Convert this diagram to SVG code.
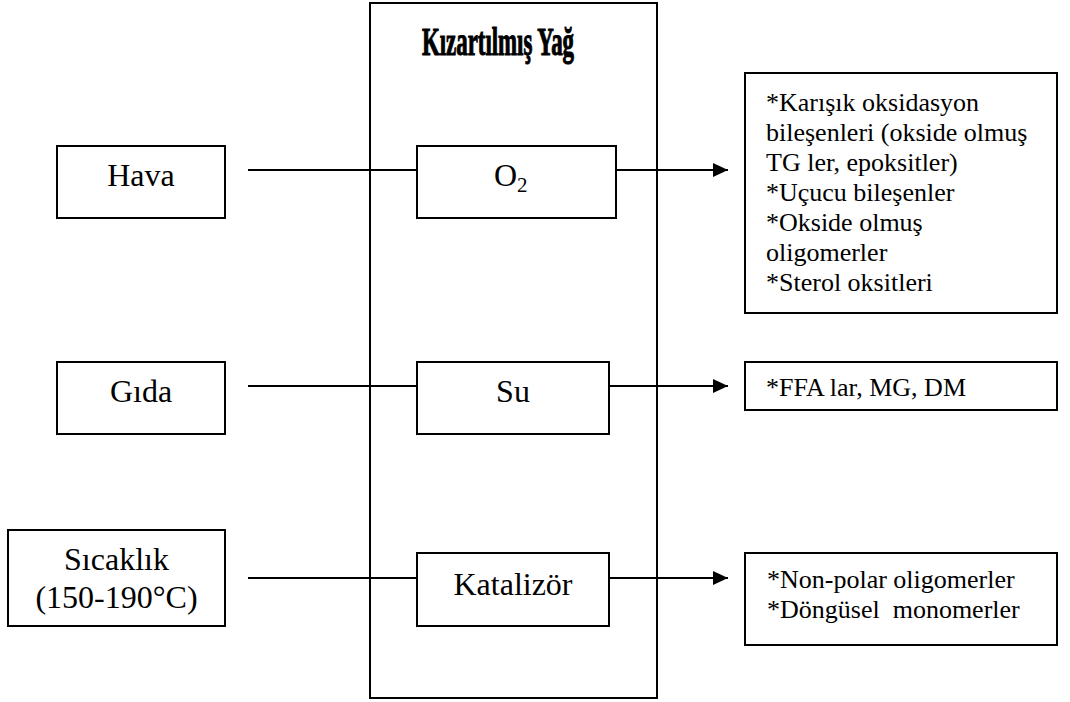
<svg xmlns="http://www.w3.org/2000/svg" width="1070" height="702" viewBox="0 0 1070 702">
<style>
.box{fill:#fff;stroke:#000;stroke-width:2}
.frame{fill:none;stroke:#000;stroke-width:2}
.ln{stroke:#000;stroke-width:2;fill:none}
.t{font-family:"Liberation Serif","Times New Roman",serif;font-size:32px;fill:#000}
.r{font-family:"Liberation Serif","Times New Roman",serif;font-size:26px;fill:#000}
.title{font-family:"Liberation Serif","Times New Roman",serif;font-size:39px;font-weight:bold;fill:#000;stroke:#000;stroke-width:1.1}
</style>
<defs>
<marker id="arr" markerWidth="16" markerHeight="14" refX="15" refY="7" orient="auto" markerUnits="userSpaceOnUse">
<path d="M0,0 L15,7 L0,14 Z" fill="#000"/>
</marker>
</defs>
<rect width="1070" height="702" fill="#fff"/>
<g id="frying-oil">
<rect class="frame" x="370" y="3" width="287" height="695"/>
<text class="title" x="422" y="55" textLength="152" lengthAdjust="spacingAndGlyphs">Kızartılmış Yağ</text>
</g>
<g id="connectors">
<line class="ln" x1="248" y1="170" x2="417" y2="170"/>
<line class="ln" x1="616" y1="170" x2="728" y2="170" marker-end="url(#arr)"/>
<line class="ln" x1="248" y1="386" x2="417" y2="386"/>
<line class="ln" x1="609" y1="386" x2="728" y2="386" marker-end="url(#arr)"/>
<line class="ln" x1="248" y1="578" x2="417" y2="578"/>
<line class="ln" x1="609" y1="578" x2="728" y2="578" marker-end="url(#arr)"/>
</g>
<g id="hava">
<rect class="box" x="57" y="146" width="168" height="72"/>
<text class="t" x="141" y="186" text-anchor="middle">Hava</text>
</g>
<g id="gida">
<rect class="box" x="57" y="362" width="168" height="72"/>
<text class="t" x="141" y="402" text-anchor="middle">Gıda</text>
</g>
<g id="sicaklik">
<rect class="box" x="8" y="530" width="217" height="96"/>
<text class="t" x="116.5" y="570" text-anchor="middle">Sıcaklık</text>
<text class="t" x="116.5" y="608" text-anchor="middle">(150-190°C)</text>
</g>
<g id="o2">
<rect class="box" x="417" y="146" width="199" height="72"/>
<text class="t" x="494" y="186">O<tspan font-size="21" dy="6">2</tspan></text>
</g>
<g id="su">
<rect class="box" x="417" y="362" width="192" height="72"/>
<text class="t" x="513" y="402" text-anchor="middle">Su</text>
</g>
<g id="katalizor">
<rect class="box" x="417" y="553" width="192" height="73"/>
<text class="t" x="513" y="595" text-anchor="middle">Katalizör</text>
</g>
<g id="result-o2">
<rect class="box" x="745" y="73" width="312" height="240"/>
<text class="r" x="766" y="111">*Karışık oksidasyon</text>
<text class="r" x="766" y="141">bileşenleri (okside olmuş</text>
<text class="r" x="766" y="171">TG ler, epoksitler)</text>
<text class="r" x="766" y="201">*Uçucu bileşenler</text>
<text class="r" x="766" y="231">*Okside olmuş</text>
<text class="r" x="766" y="261">oligomerler</text>
<text class="r" x="766" y="291">*Sterol oksitleri</text>
</g>
<g id="result-su">
<rect class="box" x="745" y="362" width="312" height="48"/>
<text class="r" x="766" y="396">*FFA lar, MG, DM</text>
</g>
<g id="result-katalizor">
<rect class="box" x="745" y="553" width="312" height="92"/>
<text class="r" x="767" y="588">*Non-polar oligomerler</text>
<text class="r" x="767" y="618" xml:space="preserve">*Döngüsel  monomerler</text>
</g>
</svg>
